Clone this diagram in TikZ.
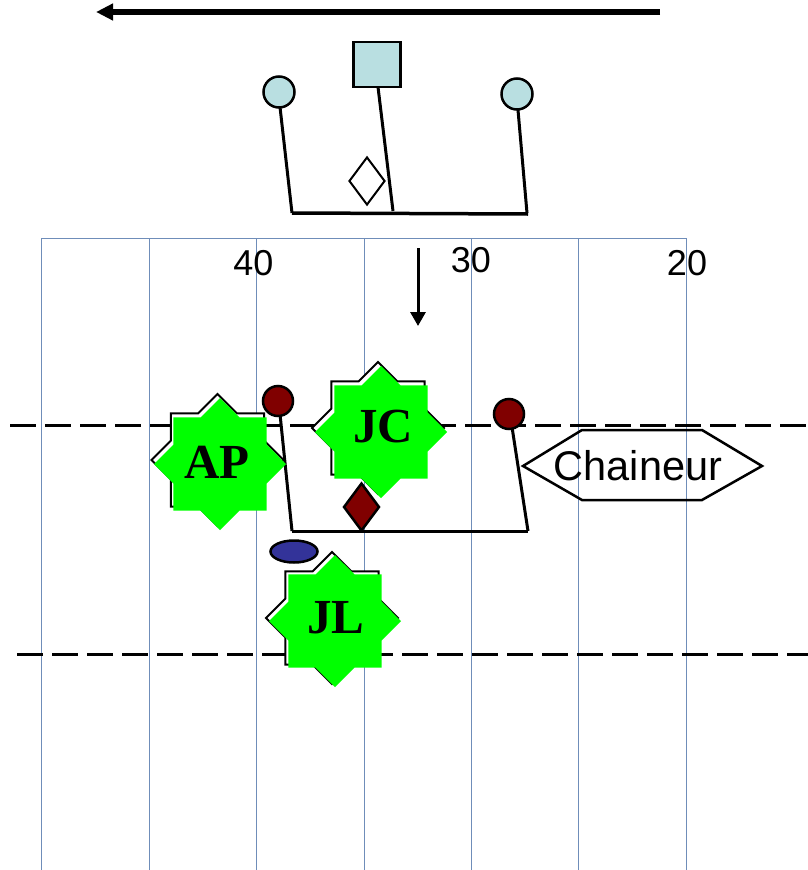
\documentclass[tikz,border=0pt]{standalone}
\usepackage{fontspec}
\setmainfont{Liberation Serif}
\setsansfont{Liberation Sans}
\usetikzlibrary{shapes.geometric,arrows.meta}
\definecolor{lblue}{HTML}{B9DFE1}
\definecolor{dred}{HTML}{800000}
\definecolor{pblue}{HTML}{333399}
\definecolor{gridc}{HTML}{6F8DB9}
\definecolor{sgreen}{HTML}{00FF00}
\tikzset{
  gridline/.style={gridc, line width=1pt},
  yardline/.style={line width=3pt, dash pattern=on 26pt off 9pt},
  stick/.style={line width=3pt},
  player/.style={circle, draw, line width=2.5pt, fill=lblue, minimum size=31pt, inner sep=0pt},
  defplayer/.style={circle, draw, line width=2.5pt, fill=dred, minimum size=30pt, inner sep=0pt},
  starout/.style={star, star points=8, star point ratio=1.3066, minimum size=132pt, inner sep=0pt, draw, line width=2pt, fill=white},
  stargreen/.style={star, star points=8, star point ratio=1.3066, minimum size=132pt, inner sep=0pt, fill=sgreen},
  starlabel/.style={font=\fontsize{49}{49}\selectfont\bfseries, inner sep=0pt},
  numlabel/.style={font=\sffamily\fontsize{36}{36}\selectfont, inner sep=0pt},
  bigarrow/.style={line width=5.5pt, -{Triangle[length=17pt,width=16pt]}},
  smallarrow/.style={line width=3pt, -{Triangle[length=14pt,width=15pt]}},
}
\begin{document}
\begin{tikzpicture}[x=1pt,y=-1pt]
\useasboundingbox (0,0) rectangle (808,870);
% grid
\foreach \gx [count=\i] in {41,149,256,364,471,578,686}{
  \coordinate (gt\i) at (\gx,238);
  \coordinate (gb\i) at (\gx,870);
  \draw[gridline] (gt\i) -- (gb\i);
}
\draw[gridline] (gt1) -- (gt7);
% numbers
\node[numlabel] (n40) at (253.5,263) {40};
\node[numlabel] (n30) at (471,260) {30};
\node[numlabel] (n20) at (687,263) {20};
% dashed lines
\coordinate (d1a) at (10,425);
\coordinate (d1b) at (808,425);
\coordinate (d2a) at (17,654);
\coordinate (d2b) at (808,654);
\draw[yardline] (d1a) -- (d1b);
\draw[yardline] (d2a) -- (d2b);
% top arrow
\coordinate (ta1) at (660,12);
\coordinate (ta2) at (96,12);
\draw[bigarrow] (ta1) -- (ta2);
% down arrow
\coordinate (da1) at (418,248);
\coordinate (da2) at (418,326);
\draw[smallarrow] (da1) -- (da2);
% offense formation (top)
\coordinate (ob1) at (292,213);
\coordinate (ob2) at (393,211);
\coordinate (ob3) at (527,213);
\coordinate (ob4) at (528,214);
\draw[stick] (280,107) -- (ob1);
\draw[stick] (378,87) -- (ob2);
\draw[stick] (518,110) -- (ob3);
\draw[stick, line width=3.5pt] (ob1) -- (ob4);
\node[player] (p1) at (279,92) {};
\node[player] (p2) at (517,94) {};
\node[rectangle, draw, line width=2.5pt, fill=lblue, minimum width=47pt, minimum height=45pt, inner sep=0pt] (sq) at (377,64.5) {};
\node[diamond, draw, line width=2pt, fill=white, minimum width=36pt, minimum height=48pt, inner sep=0pt] (dw) at (367,181) {};
% defense
\coordinate (db1) at (292,531);
\coordinate (db2) at (528,531);
\draw[stick] (280,414) -- (db1);
\draw[stick] (512,427) -- (db2);
\draw[stick] (db1) -- (db2);
\node[defplayer] (r1) at (278,401) {};
\node[defplayer] (r2) at (509,414) {};
\node[diamond, draw, line width=2.5pt, fill=dred, minimum width=36pt, minimum height=48pt, inner sep=0pt] (dr) at (361.5,507) {};
\node[ellipse, draw, line width=2.5pt, fill=pblue, minimum width=47pt, minimum height=22pt, inner sep=0pt] (el) at (294,551.5) {};
% stars
\node[starout] (AP) at (217.5,460) {};
\node[stargreen] (APg) at (220,464) {};
\node[starlabel] (APt) at (217,462) {AP};
\node[starout] (JC) at (378,428) {};
\node[stargreen] (JCg) at (381,432) {};
\node[starlabel] (JCt) at (383,427) {JC};
\node[starout] (JL) at (332,618) {};
\node[stargreen] (JLg) at (335,621) {};
\node[starlabel] (JLt) at (336,618) {JL};
% Chaineur
\node[font=\sffamily\fontsize{41.5}{41.5}\selectfont, inner sep=0pt] (ch) at (638,466) {Chaineur};
\draw[line width=2.5pt, line join=miter] (523,466) -- (582,430) -- (702,430) -- (762,466) -- (702,500) -- (582,500) -- cycle;
\end{tikzpicture}
\end{document}
